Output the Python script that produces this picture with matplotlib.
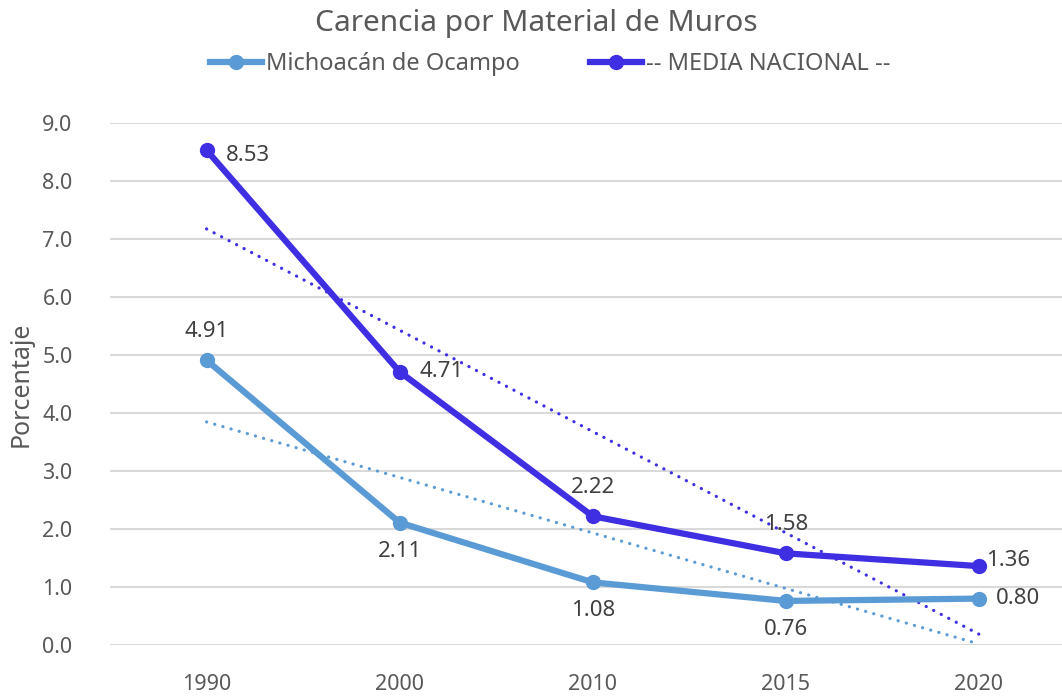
import numpy as np
import matplotlib
matplotlib.use("Agg")
import matplotlib.pyplot as plt

years = ["1990", "2000", "2010", "2015", "2020"]
michoacan = [4.91, 2.11, 1.08, 0.76, 0.80]
nacional = [8.53, 4.71, 2.22, 1.58, 1.36]

c_mich = "#5B9BD5"
c_nac = "#3F2FE3"
txt = "#404040"
grey = "#595959"

plt.rcParams["font.family"] = ["Noto Sans", "DejaVu Sans"]

fig = plt.figure(figsize=(10.62, 7.0), dpi=100)
ax = fig.add_axes([110 / 1062, 1 - 645 / 700, 952 / 1062, (645 - 123) / 700])

x = np.arange(len(years))

# linear trendlines (least squares, like the spreadsheet)
for vals, col in [(michoacan, c_mich), (nacional, c_nac)]:
    k, b = np.polyfit(x, vals, 1)
    ax.plot(x, k * x + b, color=col, lw=2.3, ls=(0, (0.05, 2.6)), dash_capstyle="round", zorder=2)

ax.plot(x, michoacan, color=c_mich, lw=4.5, marker="o", ms=10, label="Michoacán de Ocampo", zorder=3)
ax.plot(x, nacional, color=c_nac, lw=4.5, marker="o", ms=10, label="-- MEDIA NACIONAL --", zorder=3)

# data labels
fs = 16
mich_pos = [(0, 13, "center", "bottom"), (0, -13, "center", "top"), (0, -13, "center", "top"),
            (0, -13, "center", "top"), (12, 0, "left", "center")]
nac_pos = [(14, -4, "left", "center"), (14, 0, "left", "center"), (0, 13, "center", "bottom"),
           (0, 13, "center", "bottom"), (5, 4, "left", "center")]
for vals, pos in [(michoacan, mich_pos), (nacional, nac_pos)]:
    for i, v in enumerate(vals):
        dx, dy, ha, va = pos[i]
        ax.annotate(f"{v:.2f}", (i, v), xytext=(dx, dy), textcoords="offset points",
                    ha=ha, va=va, fontsize=fs, color=txt, zorder=4)

ax.set_xlim(-0.5, 4.43)
ax.set_ylim(0, 9)
ax.set_yticks(np.arange(0, 10, 1))
ax.set_yticklabels([f"{v:.1f}" for v in np.arange(0, 10, 1)])
ax.set_xticks(x)
ax.set_xticklabels(years)
ax.tick_params(axis="both", length=0, labelsize=15.5, colors=grey)
ax.tick_params(axis="x", pad=21)
ax.tick_params(axis="y", pad=27)
ax.grid(axis="y", color="#d9d9d9", lw=1.5)
ax.set_axisbelow(True)
for s in ax.spines.values():
    s.set_visible(False)

ax.set_ylabel("Porcentaje", fontsize=18, color=grey, labelpad=6)
fig.text(0.505, 1 - 23 / 700, "Carencia por Material de Muros", ha="center", va="center",
         fontsize=21.5, color=grey)
fig.legend(loc="center", bbox_to_anchor=(0.518, 1 - 64 / 700), ncol=2, frameon=False,
           fontsize=17, handlelength=2.2, handletextpad=0.15, columnspacing=3.0,
           labelcolor=grey)

fig.savefig("out.png", dpi=100)
